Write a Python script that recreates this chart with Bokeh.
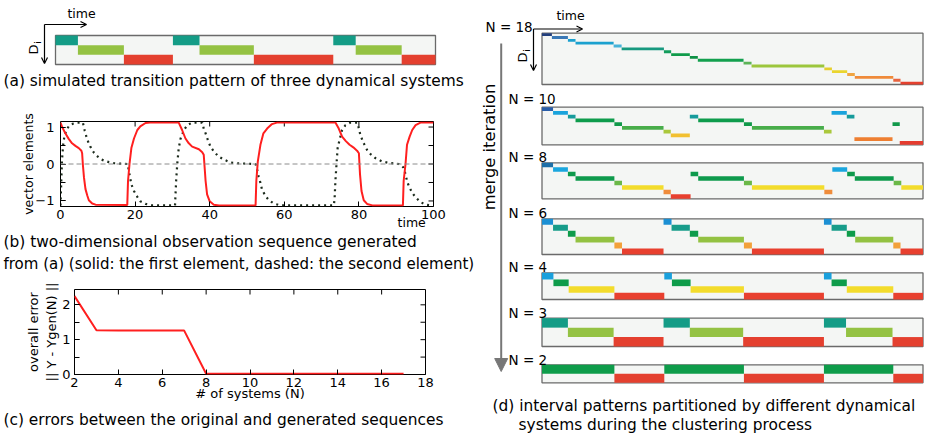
import math
from bokeh.plotting import figure
from bokeh.models import Range1d, Label, Arrow, OpenHead, NormalHead, FixedTicker, Span, ColumnDataSource
from bokeh.layouts import row, column
from bokeh.embed import file_html
from bokeh.resources import INLINE

FONT = "DejaVu Sans"

# ------------------------------------------------------------------ data
# (a) simulated transition pattern
a_start = [0, 5.9, 18, 30.9, 37.9, 52.2, 73.1, 79, 91.1]
a_end = [5.9, 18, 30.9, 37.9, 52.2, 73.1, 79, 91.1, 100]
a_row = [0, 1, 2, 0, 1, 2, 0, 1, 2]
a_colors = ["#149c86", "#94c243", "#e4402f"]

# (b) observation sequence: first element (solid) and second element (dashed)
b_t1 = [0, 0.45, 1.3, 2.2, 3.1, 4.0, 4.9, 5.6, 5.8, 6.0,
        6.3, 6.7, 7.2, 7.6, 8.5, 9.4, 17.9, 18.1, 18.5, 19.0,
        19.7, 20.6, 21.4, 22.8, 24.0, 31.7, 32.6, 33.5, 34.4, 35.3,
        37.1, 38.0, 38.4, 38.9, 39.3, 40.0, 41.1, 42.5, 52.3, 52.5,
        52.9, 53.6, 54.4, 55.4, 56.7, 58.0, 73.7, 74.6, 75.5, 76.5,
        77.5, 78.5, 79.5, 80.0, 80.3, 80.7, 81.3, 82.2, 83.6, 91.8,
        92.0, 92.5, 92.9, 93.6, 94.3, 95.2, 96.5, 100]
b_y1 = [1.12, 1.0, 0.83, 0.68, 0.56, 0.49, 0.43, 0.36, 0.29, -0.02,
        -0.37, -0.68, -0.86, -0.98, -1.07, -1.10, -1.11, -0.46, 0.0, 0.43,
        0.69, 0.92, 1.02, 1.11, 1.12, 1.12, 0.92, 0.69, 0.56, 0.47,
        0.40, 0.32, 0.25, -0.46, -0.82, -1.01, -1.10, -1.12, -1.12, -0.46,
        0.07, 0.52, 0.83, 0.96, 1.08, 1.12, 1.12, 0.96, 0.74, 0.62,
        0.52, 0.45, 0.36, 0.29, -0.28, -0.73, -0.98, -1.08, -1.12, -1.12,
        -0.46, 0.0, 0.52, 0.74, 0.92, 1.05, 1.12, 1.12]
b_t2 = [0, 0.2, 0.4, 0.7, 1.0, 1.5, 2.2, 3.0, 4.5, 6.0,
        6.5, 7.0, 7.5, 8.0, 8.5, 9.0, 10.0, 11.0, 12.0, 13.0,
        14.5, 16.0, 18.0, 18.5, 19.0, 19.7, 20.6, 21.4, 22.8, 24.6,
        30.7, 31.0, 31.3, 31.7, 32.2, 33.1, 34.0, 35.3, 38.0, 38.4,
        38.9, 39.5, 40.2, 41.1, 42.4, 43.8, 45.6, 47.4, 52.3, 52.7,
        53.1, 53.6, 54.0, 54.9, 55.9, 57.2, 59.0, 73.3, 73.5, 73.7,
        74.0, 74.3, 74.9, 75.5, 76.4, 77.7, 79.6, 80.0, 80.4, 81.3,
        82.2, 83.1, 84.4, 86.2, 88.0, 90.7, 92.0, 92.5, 92.9, 93.4,
        94.3, 95.2, 96.5, 97.9, 100]
b_y2 = [-1.12, -0.5, 0.1, 0.5, 0.72, 0.9, 1.02, 1.08, 1.12, 1.12,
        0.9, 0.72, 0.58, 0.47, 0.38, 0.30, 0.20, 0.12, 0.08, 0.05,
        0.02, 0.01, 0.0, -0.28, -0.55, -0.73, -0.89, -1.01, -1.08, -1.12,
        -1.12, -0.46, 0.0, 0.43, 0.69, 0.92, 1.05, 1.12, 1.12, 0.96,
        0.83, 0.65, 0.47, 0.34, 0.20, 0.12, 0.04, 0.02, 0.0, -0.15,
        -0.33, -0.51, -0.68, -0.86, -0.98, -1.07, -1.12, -1.12, -0.9, -0.46,
        0.0, 0.43, 0.69, 0.92, 1.05, 1.12, 1.12, 0.96, 0.78, 0.56,
        0.38, 0.27, 0.16, 0.07, 0.03, 0.0, -0.1, -0.28, -0.46, -0.6,
        -0.78, -0.9, -1.03, -1.1, -1.12]
b_xticks = [0, 20, 40, 60, 80, 100]
b_yticks = [-1, 0, 1]
b_yminor = [-1, -0.5, 0, 0.5, 1]

# (c) overall error vs number of systems
c_n = [2, 3, 4, 5, 6, 7, 8, 9, 10, 11, 12, 13, 14, 15, 16, 17]
c_err = [2.25, 1.27, 1.265, 1.26, 1.26, 1.26, 0.02, 0.02, 0.02, 0.02,
         0.02, 0.02, 0.02, 0.02, 0.02, 0.02]
c_xticks = [2, 4, 6, 8, 10, 12, 14, 16, 18]
c_yticks = [0, 1, 2]
c_yminor = [0, 0.5, 1, 1.5, 2]

# (d) interval patterns during merging
d_names = ["N = 18", "N = 10", "N = 8", "N = 6", "N = 4", "N = 3", "N = 2"]
d_nrows = [18, 10, 8, 6, 4, 3, 2]

d18_start = [0, 2.6, 6.8, 8.8, 18.8, 20.9, 32.0, 33.9, 38.8, 40.9, 52.9, 55.0, 74.1, 76.1, 80.1, 82.1, 92.2, 94.1]
d18_end = [2.6, 6.8, 8.8, 18.8, 20.9, 32.0, 33.9, 38.8, 40.9, 52.9, 55.0, 74.1, 76.1, 80.1, 82.1, 92.2, 94.1, 100]
d18_row = [0, 1, 2, 3, 4, 5, 6, 7, 8, 9, 10, 11, 12, 13, 14, 15, 16, 17]
d18_colors = ["#233f7c", "#3a78b6", "#1aa0cf", "#1ba1cf", "#47b3d9", "#17997f",
              "#129d5c", "#0f9b4a", "#0d9145", "#13a04e", "#5db458", "#9cc63c",
              "#e6cf2e", "#ead52e", "#f0a542", "#ef8a3a", "#e8633f", "#e5412f"]

d10_start = [0, 2.9, 6.8, 8.8, 19.0, 21.0, 31.9, 33.8, 38.8, 41.0, 53.0, 55.1, 74.0, 76.0, 80.0, 82.0, 92.0, 93.9]
d10_end = [2.9, 6.8, 8.8, 19.0, 21.0, 31.9, 33.8, 38.8, 41.0, 53.0, 55.1, 74.0, 76.0, 80.0, 82.0, 92.0, 93.9, 100]
d10_row = [0, 1, 2, 3, 4, 5, 6, 7, 2, 3, 4, 5, 6, 1, 2, 8, 4, 9]
d10_colors = ["#2a5ea8", "#1aa3dc", "#169b9b", "#0e9c4c", "#11994a",
              "#48ad4a", "#aac83c", "#f2c030", "#ee7f32", "#e53c2f"]

d8_start = [0, 2.9, 6.8, 8.8, 19.0, 21.0, 31.9, 33.8, 39.0, 41.0, 53.0, 55.1, 74.1, 76.2, 80.1, 82.1, 92.3, 94.3]
d8_end = [2.9, 6.8, 8.8, 19.0, 21.0, 31.9, 33.8, 39.0, 41.0, 53.0, 55.1, 74.1, 76.2, 80.1, 82.1, 92.3, 94.3, 100]
d8_row = [0, 1, 2, 3, 4, 5, 6, 7, 2, 3, 4, 5, 6, 1, 2, 3, 4, 5]
d8_colors = ["#1d6fa8", "#1aa6de", "#0e9a4c", "#0e9a4c", "#6ab848",
             "#f3dc2c", "#ef8c3c", "#e8402f"]

d6_start = [0, 2.9, 6.8, 8.8, 19.0, 21.0, 31.9, 34.0, 38.8, 41.0, 53.0, 55.1, 74.0, 76.0, 80.0, 82.2, 92.2, 94.1]
d6_end = [2.9, 6.8, 8.8, 19.0, 21.0, 31.9, 34.0, 38.8, 41.0, 53.0, 55.1, 74.0, 76.0, 80.0, 82.2, 92.2, 94.1, 100]
d6_row = [0, 1, 2, 3, 4, 5, 0, 1, 2, 3, 4, 5, 0, 1, 2, 3, 4, 5]
d6_colors = ["#1b8fd3", "#179c8a", "#0e9c4a", "#93c242", "#f2a13a", "#e8402f"]

d4_start = [0, 3.0, 7.0, 19.0, 32.1, 34.1, 39.0, 53.0, 74.0, 76.0, 80.0, 92.2]
d4_end = [3.0, 7.0, 19.0, 32.1, 34.1, 39.0, 53.0, 74.0, 76.0, 80.0, 92.2, 100]
d4_row = [0, 1, 2, 3, 0, 1, 2, 3, 0, 1, 2, 3]
d4_colors = ["#1aa0dc", "#0e9c4a", "#f3dc2c", "#e8402f"]

d3_start = [0, 6.8, 18.8, 31.9, 38.8, 52.8, 74.0, 79.8, 92.0]
d3_end = [6.8, 18.8, 31.9, 38.8, 52.8, 74.0, 79.8, 92.0, 100]
d3_row = [0, 1, 2, 0, 1, 2, 0, 1, 2]
d3_colors = ["#149c86", "#94c243", "#e4402f"]

d2_start = [0, 19.0, 32.1, 53.0, 74.0, 92.2]
d2_end = [19.0, 32.1, 53.0, 74.0, 92.2, 100]
d2_row = [0, 1, 0, 1, 0, 1]
d2_colors = ["#0e9c4a", "#e4402f"]

# ------------------------------------------------------------------ styles / layout helpers
BOX_BG = "#f4f6f4"
BOX_LINE = "#6a6a6a"
CAP = 15.4   # caption font size (px)


def lin(px, a_px, b_px, a_v, b_v):
    return a_v + (px - a_px) * (b_v - a_v) / (b_px - a_px)


def canvas_fig(x0, y0, w, h):
    """Figure whose frame is the whole canvas; main ranges are page pixels."""
    p = figure(width=w, height=h, x_range=Range1d(x0, x0 + w), y_range=Range1d(y0 + h, y0),
               output_backend="svg", toolbar_location=None, title=None,
               min_border=0, min_border_left=0, min_border_right=0,
               min_border_top=0, min_border_bottom=0,
               x_axis_location=None, y_axis_location=None,
               background_fill_color="white", border_fill_color="white")
    p.outline_line_color = None
    p.grid.visible = False
    return p


def axis_fig(x0, y0, w, h, fl, fr, ft, fb, xr, yr):
    p = figure(width=w, height=h, x_range=xr, y_range=yr,
               output_backend="svg", toolbar_location=None, title=None,
               min_border_left=fl - x0, min_border_right=x0 + w - fr,
               min_border_top=ft - y0, min_border_bottom=y0 + h - fb,
               background_fill_color="white", border_fill_color="white")
    p.outline_line_color = "black"
    p.outline_line_width = 1
    p.xgrid.visible = False
    p.ygrid.visible = False
    return p


def lab(p, x, y, text, size, align="left", angle=0, color="black"):
    p.add_layout(Label(x=x, y=y, text=text, text_font=FONT, text_font_size=f"{size}px",
                       text_align=align, text_baseline="middle", angle=angle,
                       text_color=color))


def arrow(p, x0, y0, x1, y1, head, color="black", lw=1.2):
    p.add_layout(Arrow(end=head, x_start=x0, y_start=y0, x_end=x1, y_end=y1,
                       line_color=color, line_width=lw))


def style_axis(ax, ticks, minor=None, size=13, standoff=4):
    ax.ticker = FixedTicker(ticks=ticks, minor_ticks=minor or [])
    ax.axis_line_color = None
    ax.major_tick_in = 5
    ax.major_tick_out = 0
    ax.minor_tick_in = 5 if minor else 0
    ax.minor_tick_out = 0
    ax.major_tick_line_color = "black"
    ax.minor_tick_line_color = "black"
    ax.major_label_text_font = FONT
    ax.major_label_text_color = "black"
    ax.major_label_text_font_size = f"{size}px"
    ax.major_label_standoff = standoff
    ax.axis_label_text_font = FONT
    ax.axis_label_text_font_style = "normal"
    ax.axis_label_text_color = "black"


def mirror_ticks(p, xticks, yticks, xr, yr):
    p.ray(x=xticks, y=[yr.end] * len(xticks), length=5, length_units="screen",
          angle=-math.pi / 2, line_color="black", line_width=1)
    p.ray(x=[xr.end] * len(yticks), y=yticks, length=5, length_units="screen",
          angle=math.pi, line_color="black", line_width=1)


def open_head():
    return OpenHead(size=6, line_width=1.2, line_color="black")


LW = 479   # left column width

# ---------------- panel (a): canvas (0, 0) LW x 92
A_BOX = (55, 435, 35, 64)  # left, right, top, bottom (page px)
pa = canvas_fig(0, 0, LW, 92)
pa.extra_x_ranges["t"] = Range1d(lin(0, A_BOX[0], A_BOX[1], 0, 100), lin(LW, A_BOX[0], A_BOX[1], 0, 100))
pa.extra_y_ranges["r"] = Range1d(lin(92, A_BOX[2], A_BOX[3], 0, 3), lin(0, A_BOX[2], A_BOX[3], 0, 3))
pa.quad(left=[0], right=[100], top=[0], bottom=[3], fill_color=BOX_BG, line_color=BOX_LINE,
        line_width=1.3, x_range_name="t", y_range_name="r")
src_a = ColumnDataSource(dict(left=a_start, right=a_end, top=a_row,
                              bottom=[r + 1 for r in a_row],
                              color=[a_colors[r] for r in a_row]))
pa.quad(left="left", right="right", top="top", bottom="bottom", fill_color="color",
        line_color=None, source=src_a, x_range_name="t", y_range_name="r")
lab(pa, 81, 13, "time", 12.5, align="center")
arrow(pa, 44, 24, 86, 24, open_head())
arrow(pa, 44, 24, 44, 63, open_head())
lab(pa, 33, 49, "D", 13, align="center", angle=math.pi / 2)
lab(pa, 37, 42, "i", 9, align="center", angle=math.pi / 2)
lab(pa, 3, 80, "(a) simulated transition pattern of three dynamical systems", CAP)

# ---------------- panel (b): canvas (0, 92) LW x 140
bx, by = Range1d(0, 100), Range1d(-1.15, 1.15)
pb = axis_fig(0, 92, LW, 140, 60, 433, 121, 207, bx, by)
style_axis(pb.xaxis[0], b_xticks, standoff=3)
style_axis(pb.yaxis[0], b_yticks, b_yminor, standoff=6)
pb.yaxis[0].axis_label = "vector elements"
pb.yaxis[0].axis_label_text_font_size = "12.5px"
pb.yaxis[0].axis_label_standoff = -4
# "time" sits at the right end of the axis, just left of the last tick label
pb.xaxis[0].axis_label = "time" + "\u00a0" * 11
pb.xaxis[0].axis_label_text_font_size = "12.5px"
pb.xaxis[0].axis_label_standoff = -7
try:
    pb.xaxis[0].axis_label_align = "end"
except Exception:
    pass
mirror_ticks(pb, b_xticks, b_yminor, bx, by)
pb.add_layout(Span(location=0, dimension="width", line_color="#8c8c8c",
                   line_dash="5 3", line_width=1))
pb.line(b_t2, b_y2, line_color="#1c2b1c", line_width=2.2, line_dash="2 4")
pb.line(b_t1, b_y1, line_color="#ff1f1f", line_width=2)

cb = canvas_fig(0, 232, LW, 44)
lab(cb, 3, 241, "(b) two-dimensional observation sequence generated", CAP)
lab(cb, 3, 263, "from (a) (solid: the first element, dashed: the second element)", 15)

# ---------------- panel (c): canvas (0, 276) LW x 128
cx, cy = Range1d(2, 18), Range1d(0, 2.44)
pc = axis_fig(0, 276, LW, 128, 74, 425, 289, 374, cx, cy)
style_axis(pc.xaxis[0], c_xticks, standoff=3)
style_axis(pc.yaxis[0], c_yticks, c_yminor, standoff=4)
pc.xaxis[0].axis_label = "# of systems (N)"
pc.xaxis[0].axis_label_text_font_size = "13px"
pc.xaxis[0].axis_label_standoff = -4
pc.yaxis[0].axis_label = "overall error\n|| Y - Ygen(N) ||"
pc.yaxis[0].axis_label_text_font_size = "13px"
pc.yaxis[0].axis_label_standoff = 0
mirror_ticks(pc, c_xticks, c_yminor, cx, cy)
pc.line(c_n, c_err, line_color="#ff1f1f", line_width=2)

cc = canvas_fig(0, 404, LW, 30)
lab(cc, 3, 419, "(c) errors between the original and generated sequences", CAP)

# ---------------- panel (d): canvas (LW, 0) to x = 926, height 434
RX0, RW, RH = LW, 926 - LW, 434
BOX_X = (541.5, 922.5)
BOX_Y = [(32.7, 84), (106.7, 144.3), (162.3, 198.3), (218.3, 254),
         (272.3, 299), (317.7, 346), (364.3, 382.3)]
LABEL_POS = [(485, 26), (508, 98), (508, 156), (508, 212), (508, 266), (508, 312), (508, 359)]

pd_ = canvas_fig(RX0, 0, RW, RH)
pd_.extra_x_ranges["t"] = Range1d(lin(RX0, BOX_X[0], BOX_X[1], 0, 100),
                                  lin(RX0 + RW, BOX_X[0], BOX_X[1], 0, 100))
d_data = [(d18_start, d18_end, d18_row, d18_colors), (d10_start, d10_end, d10_row, d10_colors),
          (d8_start, d8_end, d8_row, d8_colors), (d6_start, d6_end, d6_row, d6_colors),
          (d4_start, d4_end, d4_row, d4_colors), (d3_start, d3_end, d3_row, d3_colors),
          (d2_start, d2_end, d2_row, d2_colors)]
for i, (name, n, (st, en, rw, cols)) in enumerate(zip(d_names, d_nrows, d_data)):
    top, bot = BOX_Y[i]
    rn = f"p{i}"
    pd_.extra_y_ranges[rn] = Range1d(lin(RH, top, bot, 0, n), lin(0, top, bot, 0, n))
    pd_.quad(left=[0], right=[100], top=[0], bottom=[n], fill_color=BOX_BG,
             line_color=BOX_LINE, line_width=1.3, x_range_name="t", y_range_name=rn)
    src = ColumnDataSource(dict(left=st, right=en, top=rw, bottom=[r + 1 for r in rw],
                                color=[cols[r] for r in rw]))
    pd_.quad(left="left", right="right", top="top", bottom="bottom", fill_color="color",
             line_color=None, source=src, x_range_name="t", y_range_name=rn)
    lx, ly = LABEL_POS[i]
    lab(pd_, lx, ly, name, 13.5)

lab(pd_, 570, 15, "time", 12.5, align="center")
arrow(pd_, 533, 28.5, 582, 28.5, open_head())
arrow(pd_, 533, 28.5, 533, 70, open_head())
lab(pd_, 522, 57, "D", 13, align="center", angle=math.pi / 2)
lab(pd_, 526, 50, "i", 9, align="center", angle=math.pi / 2)
arrow(pd_, 500.7, 43, 500.7, 371, NormalHead(size=13, fill_color="#777777", line_color="#777777"),
      color="#777777", lw=2)
lab(pd_, 489, 146.5, "merge iteration", 16.3, align="center", angle=math.pi / 2)
lab(pd_, 492, 405, "(d) interval patterns partitioned by different dynamical", CAP)
lab(pd_, 518, 424, "systems during the clustering process", CAP)

# each axis figure sits in its own row so that its borders are not shared with the
# caption canvases above and below it
layout = row(column(pa, row(pb, spacing=0), cb, row(pc, spacing=0), cc, spacing=0),
             pd_, spacing=0)
open("out.html", "w").write(file_html(layout, INLINE))
